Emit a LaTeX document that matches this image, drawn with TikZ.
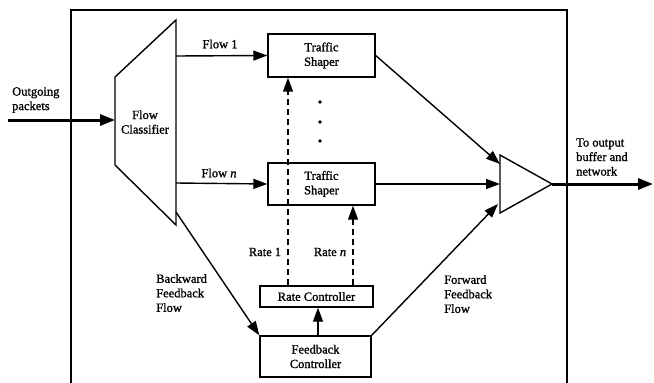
\documentclass[tikz,border=0pt]{standalone}
\usepackage{fontspec}
\setmainfont{Liberation Serif}[FakeBold=1.2,AutoFakeBold=1.2]
\usetikzlibrary{arrows.meta}
\begin{document}
\begin{tikzpicture}[x=1pt,y=-1pt,
  every node/.style={font=\fontsize{12.5}{14.5}\selectfont},
  lbl/.style={align=left,inner sep=0pt},
  blk/.style={draw,line width=1.4pt,align=center,inner sep=0pt},
  conn/.style={line width=1.4pt,-{Triangle[length=14pt,width=10pt]}},
  thick conn/.style={line width=3pt,-{Triangle[length=15pt,width=11pt]}},
  dconn/.style={conn,dash pattern=on 6pt off 4pt}]
\useasboundingbox (0,0) rectangle (654,383);
% outer frame
\draw[line width=1.4pt] (71,390) -- (71,10) -- (567,10) -- (567,390);
% flow classifier
\coordinate (ctr) at (176,20);
\coordinate (cbr) at (176,225);
\draw[line width=1.4pt] (ctr) -- (115,77) -- (115,165) -- (cbr) -- cycle;
\node[lbl,align=center] (fc) at (145,122) {Flow\\Classifier};
\coordinate (cin) at (115,120);
\coordinate (c1) at (176,56);
\coordinate (cn) at (176,183);
\coordinate (cb) at (176,212);
% traffic shapers
\node[blk,minimum width=107pt,minimum height=43pt] (ts1) at (321.5,55.5) {Traffic\\Shaper};
\node[blk,minimum width=107pt,minimum height=42pt] (tsn) at (321.5,184) {Traffic\\Shaper};
% dots
\node[circle,fill,inner sep=1.4pt] (d1) at (320,102) {};
\node[circle,fill,inner sep=1.4pt] (d2) at (320,122) {};
\node[circle,fill,inner sep=1.4pt] (d3) at (320,141) {};
% controllers
\node[blk,minimum width=113pt,minimum height=21pt] (rc) at (316.5,296.5) {Rate Controller};
\node[blk,minimum width=111pt,minimum height=41pt] (fbc) at (315.5,356.5) {Feedback\\Controller};
% merger
\coordinate (mtop) at (500,155);
\coordinate (mapex) at (552,184);
\coordinate (mbot) at (500,213);
\draw[line width=1.4pt] (mtop) -- (mapex) -- (mbot) -- cycle;
\coordinate (m1) at (500,164);
\coordinate (mn) at (500,184);
\coordinate (mf) at (498,204);
% in/out
\coordinate (inS) at (8,120);
\coordinate (outE) at (653,184);
\draw[thick conn] (inS) -- (cin);
\draw[thick conn] (mapex) -- (outE);
% flows
\draw[conn] (c1) -- (ts1.west);
\draw[conn] (cn) -- (tsn.west);
\draw[conn] (ts1.east) -- (m1);
\draw[conn] (tsn.east) -- (mn);
\draw[conn] (cb) -- (fbc.north west);
\draw[conn] (fbc.north east) -- (mf);
\draw[conn] (fbc.north -| 318,0) -- (rc.south -| 318,0);
\draw[dconn] (rc.north -| 288,0) -- (ts1.south -| 288,0);
\draw[dconn] (rc.north -| 353,0) -- (tsn.south -| 353,0);
% labels
\node[lbl,anchor=west] (lout) at (12,100) {Outgoing\\packets};
\node[lbl] (lf1) at (220,44) {Flow 1};
\node[lbl] (lfn) at (219,173) {Flow \textit{n}};
\node[lbl] (lr1) at (265,252) {Rate 1};
\node[lbl] (lrn) at (330,252) {Rate \textit{n}};
\node[lbl,anchor=west] (lbk) at (156,293) {Backward\\Feedback\\Flow};
\node[lbl,anchor=west] (lfw) at (444,294) {Forward\\Feedback\\Flow};
\node[lbl,anchor=west] (lto) at (576,157) {To output\\buffer and\\network};
\end{tikzpicture}
\end{document}
